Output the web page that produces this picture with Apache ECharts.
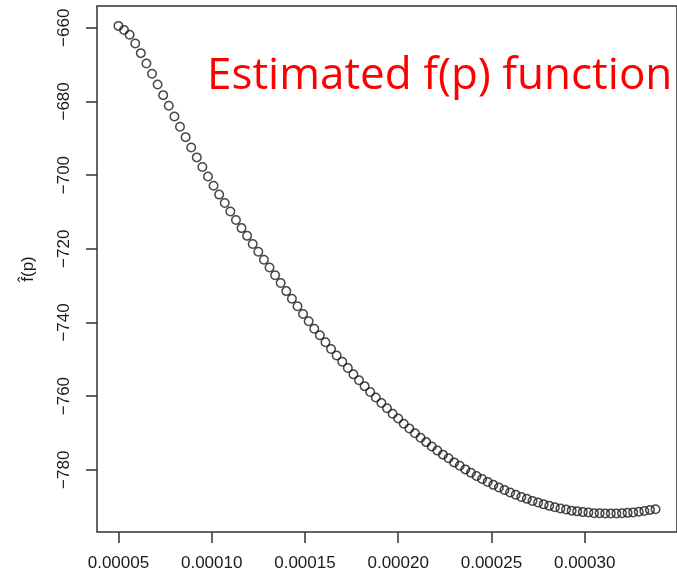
<!DOCTYPE html>
<html>
<head>
<meta charset="utf-8">
<title>Estimated f(p) function</title>
<script src="https://cdn.jsdelivr.net/npm/echarts@6/dist/echarts.min.js"></script>
<style>
  html, body { margin: 0; padding: 0; background: #fff; }
  #chart { width: 677px; height: 575px; }
</style>
</head>
<body>
<div id="chart"></div>
<script>
// p values (x)
var pVals = [
  0.000050, 0.000053, 0.000056, 0.000059, 0.000062, 0.000065, 0.000068, 0.000071, 0.000074, 0.000077,
  0.000080, 0.000083, 0.000086, 0.000089, 0.000092, 0.000095, 0.000098, 0.000101, 0.000104, 0.000107,
  0.000110, 0.000113, 0.000116, 0.000119, 0.000122, 0.000125, 0.000128, 0.000131, 0.000134, 0.000137,
  0.000140, 0.000143, 0.000146, 0.000149, 0.000152, 0.000155, 0.000158, 0.000161, 0.000164, 0.000167,
  0.000170, 0.000173, 0.000176, 0.000179, 0.000182, 0.000185, 0.000188, 0.000191, 0.000194, 0.000197,
  0.000200, 0.000203, 0.000206, 0.000209, 0.000212, 0.000215, 0.000218, 0.000221, 0.000224, 0.000227,
  0.000230, 0.000233, 0.000236, 0.000239, 0.000242, 0.000245, 0.000248, 0.000251, 0.000254, 0.000257,
  0.000260, 0.000263, 0.000266, 0.000269, 0.000272, 0.000275, 0.000278, 0.000281, 0.000284, 0.000287,
  0.000290, 0.000293, 0.000296, 0.000299, 0.000302, 0.000305, 0.000308, 0.000311, 0.000314, 0.000317,
  0.000320, 0.000323, 0.000326, 0.000329, 0.000332, 0.000335, 0.000338
]

// estimated f(p) (y)
var fVals = [
  -659.5, -660.6, -661.9, -664.3, -666.9, -669.7, -672.5, -675.4, -678.3, -681.2,
  -684.1, -686.9, -689.7, -692.5, -695.2, -697.8, -700.4, -702.9, -705.3, -707.6,
  -709.9, -712.2, -714.4, -716.5, -718.7, -720.8, -723.0, -725.1, -727.2, -729.3,
  -731.5, -733.6, -735.6, -737.7, -739.7, -741.7, -743.5, -745.4, -747.2, -749.0,
  -750.7, -752.4, -754.1, -755.7, -757.3, -758.9, -760.4, -761.9, -763.3, -764.8,
  -766.1, -767.5, -768.8, -770.1, -771.3, -772.5, -773.7, -774.8, -775.9, -776.9,
  -778.0, -778.9, -779.9, -780.8, -781.7, -782.5, -783.3, -784.1, -784.8, -785.5,
  -786.2, -786.8, -787.4, -787.9, -788.5, -788.9, -789.4, -789.8, -790.2, -790.5,
  -790.8, -791.1, -791.3, -791.5, -791.6, -791.8, -791.8, -791.9, -791.9, -791.9,
  -791.8, -791.7, -791.6, -791.4, -791.2, -790.9, -790.7
]

var xTicks = [0.00005, 0.00010, 0.00015, 0.00020, 0.00025, 0.00030]
var yTicks = [-780, -760, -740, -720, -700, -680, -660]

var points = pVals.map(function (p, i) { return [p, fVals[i]] })

var chart = echarts.init(document.getElementById('chart'))

var axisText = {
  color: '#1a1a1a',
  fontFamily: 'Liberation Sans, Arial, sans-serif',
  fontSize: 17
}

chart.setOption({
  animation: false,
  backgroundColor: '#fff',
  grid: {
    left: 97,
    top: 6,
    width: 587,
    height: 526,
    show: true,
    borderColor: '#333',
    borderWidth: 1.5,
    backgroundColor: 'transparent'
  },
  xAxis: {
    type: 'value',
    min: 0.0000385,
    max: 0.0003495,
    axisLine: { show: false },
    splitLine: { show: false },
    axisTick: {
      show: true,
      length: 11,
      customValues: xTicks,
      lineStyle: { color: '#333', width: 1.5 }
    },
    axisLabel: Object.assign({
      margin: 23,
      customValues: xTicks,
      formatter: function (v) { return v.toFixed(5) }
    }, axisText)
  },
  yAxis: {
    type: 'value',
    min: -796.9,
    max: -654.1,
    name: 'f\u0302(p)',
    nameLocation: 'middle',
    nameGap: 60,
    nameRotate: 90,
    nameTextStyle: axisText,
    axisLine: { show: false },
    splitLine: { show: false },
    axisTick: {
      show: true,
      length: 11,
      customValues: yTicks,
      lineStyle: { color: '#333', width: 1.5 }
    },
    axisLabel: Object.assign({
      margin: 24,
      rotate: 90,
      customValues: yTicks,
      formatter: function (v) { return String(v).replace('-', '\u2212') }
    }, axisText)
  },
  graphic: [{
    type: 'text',
    left: 207,
    top: 54,
    style: {
      text: 'Estimated f(p) function',
      fill: '#ff0000',
      fontFamily: 'Open Sans, sans-serif',
      fontSize: 44
    }
  }],
  series: [{
    type: 'scatter',
    data: points,
    symbol: 'circle',
    symbolSize: 8.5,
    itemStyle: {
      color: 'transparent',
      borderColor: '#1a1a1a',
      borderWidth: 1.5
    }
  }]
})
</script>
</body>
</html>
